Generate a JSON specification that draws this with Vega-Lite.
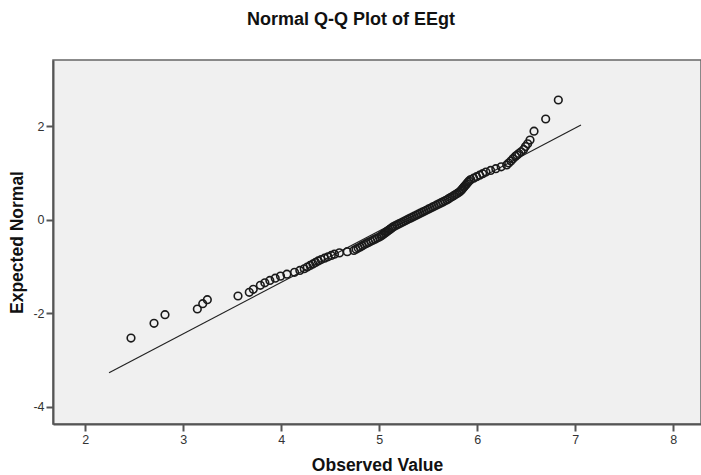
{
  "$schema": "https://vega.github.io/schema/vega-lite/v6.json",
  "width": 648,
  "height": 364,
  "autosize": {"type": "none"},
  "padding": {"left": 53, "top": 60, "right": 0, "bottom": 51},
  "background": "white",
  "title": {
    "text": "Normal Q-Q Plot of EEgt",
    "font": "Liberation Sans",
    "fontSize": 18,
    "fontWeight": "bold",
    "color": "#111",
    "anchor": "middle",
    "dx": -26,
    "offset": 31
  },
  "config": {
    "view": {"fill": "#f0f0f0", "stroke": "#666", "strokeWidth": 1.5},
    "axis": {
      "grid": false,
      "domainColor": "#555",
      "domainWidth": 2,
      "tickColor": "#555",
      "tickWidth": 2,
      "tickSize": 7,
      "labelFont": "Liberation Sans",
      "labelFontSize": 12.5,
      "labelColor": "#333",
      "labelPadding": 2,
      "labelExpr": "toString(datum.value)",
      "titleFont": "Liberation Sans",
      "titleFontSize": 17.5,
      "titleFontWeight": "bold",
      "titleColor": "#111"
    }
  },
  "datasets": {
    "points": [
      {"observed": 2.466, "expected": -2.532},
      {"observed": 2.701, "expected": -2.218},
      {"observed": 2.813, "expected": -2.034},
      {"observed": 3.143, "expected": -1.912},
      {"observed": 3.198, "expected": -1.799},
      {"observed": 3.245, "expected": -1.713},
      {"observed": 3.558, "expected": -1.634},
      {"observed": 3.673, "expected": -1.555},
      {"observed": 3.714, "expected": -1.491},
      {"observed": 3.786, "expected": -1.405},
      {"observed": 3.832, "expected": -1.351},
      {"observed": 3.883, "expected": -1.301},
      {"observed": 3.938, "expected": -1.254},
      {"observed": 3.992, "expected": -1.209},
      {"observed": 4.057, "expected": -1.167},
      {"observed": 4.135, "expected": -1.127},
      {"observed": 4.189, "expected": -1.088},
      {"observed": 4.234, "expected": -1.051},
      {"observed": 4.265, "expected": -1.015},
      {"observed": 4.294, "expected": -0.981},
      {"observed": 4.323, "expected": -0.948},
      {"observed": 4.350, "expected": -0.916},
      {"observed": 4.377, "expected": -0.885},
      {"observed": 4.407, "expected": -0.854},
      {"observed": 4.441, "expected": -0.825},
      {"observed": 4.476, "expected": -0.796},
      {"observed": 4.510, "expected": -0.767},
      {"observed": 4.542, "expected": -0.740},
      {"observed": 4.593, "expected": -0.712},
      {"observed": 4.673, "expected": -0.686},
      {"observed": 4.740, "expected": -0.660},
      {"observed": 4.763, "expected": -0.634},
      {"observed": 4.784, "expected": -0.609},
      {"observed": 4.806, "expected": -0.584},
      {"observed": 4.827, "expected": -0.559},
      {"observed": 4.848, "expected": -0.535},
      {"observed": 4.869, "expected": -0.511},
      {"observed": 4.890, "expected": -0.488},
      {"observed": 4.913, "expected": -0.464},
      {"observed": 4.935, "expected": -0.441},
      {"observed": 4.957, "expected": -0.418},
      {"observed": 4.978, "expected": -0.396},
      {"observed": 5.000, "expected": -0.373},
      {"observed": 5.017, "expected": -0.351},
      {"observed": 5.031, "expected": -0.329},
      {"observed": 5.045, "expected": -0.307},
      {"observed": 5.059, "expected": -0.285},
      {"observed": 5.072, "expected": -0.264},
      {"observed": 5.086, "expected": -0.242},
      {"observed": 5.100, "expected": -0.221},
      {"observed": 5.114, "expected": -0.199},
      {"observed": 5.127, "expected": -0.178},
      {"observed": 5.140, "expected": -0.157},
      {"observed": 5.159, "expected": -0.136},
      {"observed": 5.179, "expected": -0.115},
      {"observed": 5.199, "expected": -0.094},
      {"observed": 5.219, "expected": -0.073},
      {"observed": 5.238, "expected": -0.052},
      {"observed": 5.258, "expected": -0.031},
      {"observed": 5.278, "expected": -0.010},
      {"observed": 5.297, "expected": 0.010},
      {"observed": 5.317, "expected": 0.031},
      {"observed": 5.337, "expected": 0.052},
      {"observed": 5.357, "expected": 0.073},
      {"observed": 5.378, "expected": 0.094},
      {"observed": 5.398, "expected": 0.115},
      {"observed": 5.418, "expected": 0.136},
      {"observed": 5.439, "expected": 0.157},
      {"observed": 5.459, "expected": 0.178},
      {"observed": 5.479, "expected": 0.199},
      {"observed": 5.500, "expected": 0.221},
      {"observed": 5.520, "expected": 0.242},
      {"observed": 5.541, "expected": 0.264},
      {"observed": 5.561, "expected": 0.285},
      {"observed": 5.582, "expected": 0.307},
      {"observed": 5.603, "expected": 0.329},
      {"observed": 5.624, "expected": 0.351},
      {"observed": 5.645, "expected": 0.373},
      {"observed": 5.667, "expected": 0.396},
      {"observed": 5.688, "expected": 0.418},
      {"observed": 5.705, "expected": 0.441},
      {"observed": 5.723, "expected": 0.464},
      {"observed": 5.741, "expected": 0.488},
      {"observed": 5.759, "expected": 0.511},
      {"observed": 5.777, "expected": 0.535},
      {"observed": 5.795, "expected": 0.559},
      {"observed": 5.814, "expected": 0.584},
      {"observed": 5.828, "expected": 0.609},
      {"observed": 5.839, "expected": 0.634},
      {"observed": 5.849, "expected": 0.660},
      {"observed": 5.860, "expected": 0.686},
      {"observed": 5.870, "expected": 0.712},
      {"observed": 5.882, "expected": 0.740},
      {"observed": 5.893, "expected": 0.767},
      {"observed": 5.905, "expected": 0.796},
      {"observed": 5.916, "expected": 0.825},
      {"observed": 5.933, "expected": 0.854},
      {"observed": 5.963, "expected": 0.885},
      {"observed": 5.993, "expected": 0.916},
      {"observed": 6.024, "expected": 0.948},
      {"observed": 6.055, "expected": 0.981},
      {"observed": 6.088, "expected": 1.015},
      {"observed": 6.136, "expected": 1.051},
      {"observed": 6.189, "expected": 1.088},
      {"observed": 6.244, "expected": 1.127},
      {"observed": 6.300, "expected": 1.167},
      {"observed": 6.321, "expected": 1.209},
      {"observed": 6.343, "expected": 1.254},
      {"observed": 6.364, "expected": 1.301},
      {"observed": 6.389, "expected": 1.351},
      {"observed": 6.406, "expected": 1.380},
      {"observed": 6.424, "expected": 1.410},
      {"observed": 6.447, "expected": 1.450},
      {"observed": 6.473, "expected": 1.500},
      {"observed": 6.492, "expected": 1.560},
      {"observed": 6.514, "expected": 1.620},
      {"observed": 6.538, "expected": 1.700},
      {"observed": 6.579, "expected": 1.890},
      {"observed": 6.698, "expected": 2.150},
      {"observed": 6.827, "expected": 2.556}
    ],
    "refline": [
      {"observed": 2.242, "expected": -3.273},
      {"observed": 7.058, "expected": 2.020}
    ]
  },
  "layer": [
    {
      "data": {"name": "refline"},
      "mark": {"type": "line", "color": "#222", "strokeWidth": 1.2},
      "encoding": {
        "x": {"field": "observed", "type": "quantitative"},
        "y": {"field": "expected", "type": "quantitative"}
      }
    },
    {
      "data": {"name": "points"},
      "mark": {"type": "point", "shape": "circle", "filled": false, "stroke": "#1a1a1a", "strokeWidth": 1.6, "size": 58, "opacity": 1},
      "encoding": {
        "x": {
          "field": "observed",
          "type": "quantitative",
          "scale": {"domain": [1.67, 8.283], "nice": false, "zero": false},
          "axis": {"values": [2, 3, 4, 5, 6, 7, 8], "title": "Observed Value", "titlePadding": 11}
        },
        "y": {
          "field": "expected",
          "type": "quantitative",
          "scale": {"domain": [-4.37, 3.411], "nice": false, "zero": false},
          "axis": {"values": [-4, -2, 0, 2], "title": "Expected Normal", "titlePadding": 6}
        }
      }
    }
  ]
}
